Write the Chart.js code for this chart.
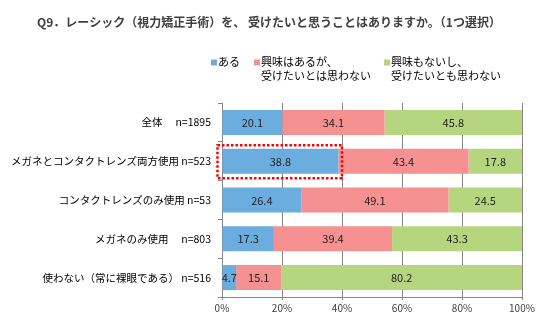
<!DOCTYPE html>
<html><head><meta charset="utf-8">
<script src="https://cdn.jsdelivr.net/npm/chart.js@4/dist/chart.umd.min.js"></script>
<style>html,body{margin:0;padding:0;background:#fff}#c{display:block}</style>
</head><body>
<div style="width:546px;height:328px"><canvas id="c" width="546" height="328"></canvas></div>
<script>
const titleText = 'Q9．レーシック（視力矯正手術）を、 受けたいと思うことはありますか。（1つ選択）';
const categories = ['全体　 n=1895', 'メガネとコンタクトレンズ両方使用 n=523', 'コンタクトレンズのみ使用 n=53', 'メガネのみ使用　 n=803', '使わない（常に裸眼である） n=516'];
const seriesNames = [['ある'], ['興味はあるが、', '受けたいとは思わない'], ['興味もないし、', '受けたいとも思わない']];
const aru = [20.1, 38.8, 26.4, 17.3, 4.7];
const kyomiAru = [34.1, 43.4, 49.1, 39.4, 15.1];
const kyomiNai = [45.8, 17.8, 24.5, 43.3, 80.2];
const xTicks = [0, 20, 40, 60, 80, 100];
const colors = ['#6CADDF', '#F59191', '#B5D67F'];
const highlight = {dataset: 0, index: 1, upTo: 40};

const FONT = '"Noto Sans CJK JP", "Noto Sans", sans-serif';

const overlay = {
  id: 'overlay',
  afterDatasetsDraw(chart) {
    const ctx = chart.ctx;
    ctx.save();
    ctx.font = '11px ' + FONT;
    ctx.fillStyle = '#222';
    ctx.textAlign = 'center';
    ctx.textBaseline = 'middle';
    chart.data.datasets.forEach((ds, di) => {
      chart.getDatasetMeta(di).data.forEach((el, i) => {
        const v = ds.data[i];
        ctx.fillText(v.toFixed(1), (el.x + el.base) / 2, el.y + 0.5);
      });
    });
    const el = chart.getDatasetMeta(highlight.dataset).data[highlight.index];
    const xs = chart.scales.x;
    const left = el.base - 5;
    const right = xs.getPixelForValue(highlight.upTo);
    const top = el.y - el.height / 2 - 3.5;
    const bottom = el.y + el.height / 2 + 4.5;
    ctx.strokeStyle = '#FF0000';
    ctx.lineWidth = 2.5;
    ctx.setLineDash([2.5, 2]);
    ctx.strokeRect(left, top, right - left, bottom - top);
    ctx.restore();
  },
  afterDraw(chart) {
    const ctx = chart.ctx;
    ctx.save();
    ctx.font = 'bold 12px ' + FONT;
    ctx.fillStyle = '#404040';
    ctx.textAlign = 'left';
    ctx.textBaseline = 'middle';
    ctx.fillText(titleText, 37, 22);
    ctx.font = '11px ' + FONT;
    const lx = [211, 254, 384];
    seriesNames.forEach((lines, i) => {
      ctx.fillStyle = colors[i];
      ctx.fillRect(lx[i], 59.5, 6, 6);
      ctx.fillStyle = '#000';
      lines.forEach((t, j) => ctx.fillText(t, lx[i] + 7, 62 + j * 13.5));
    });
    ctx.restore();
  }
};

new Chart(document.getElementById('c'), {
  type: 'bar',
  data: {
    labels: categories,
    datasets: [
      {label: seriesNames[0].join(''), data: aru, backgroundColor: colors[0]},
      {label: seriesNames[1].join(''), data: kyomiAru, backgroundColor: colors[1]},
      {label: seriesNames[2].join(''), data: kyomiNai, backgroundColor: colors[2]}
    ]
  },
  options: {
    indexAxis: 'y',
    responsive: false,
    animation: false,
    devicePixelRatio: 1,
    layout: {padding: {top: 103, right: 24, bottom: 0, left: 0}},
    datasets: {bar: {categoryPercentage: 1, barPercentage: 0.645, borderWidth: 0}},
    plugins: {legend: {display: false}, title: {display: false}, tooltip: {enabled: false}},
    scales: {
      x: {
        stacked: true, min: 0, max: 100,
        afterBuildTicks(s) { s.ticks = xTicks.map(v => ({value: v})); },
        afterFit(s) { s.height = 31; },
        ticks: {callback: v => v + '%', font: {family: FONT, size: 10}, color: '#404040', padding: 2, maxRotation: 0},
        grid: {color: '#868686', lineWidth: 1, tickLength: 3, drawTicks: true},
        border: {display: true, color: '#868686'}
      },
      y: {
        stacked: true,
        afterFit(s) { s.width = 222; },
        ticks: {font: {family: FONT, size: 10.5}, color: '#000', padding: 7},
        grid: {offset: true, drawOnChartArea: false, color: '#868686', tickLength: 4},
        border: {display: true, color: '#868686'}
      }
    }
  },
  plugins: [overlay]
});
</script>
</body></html>
